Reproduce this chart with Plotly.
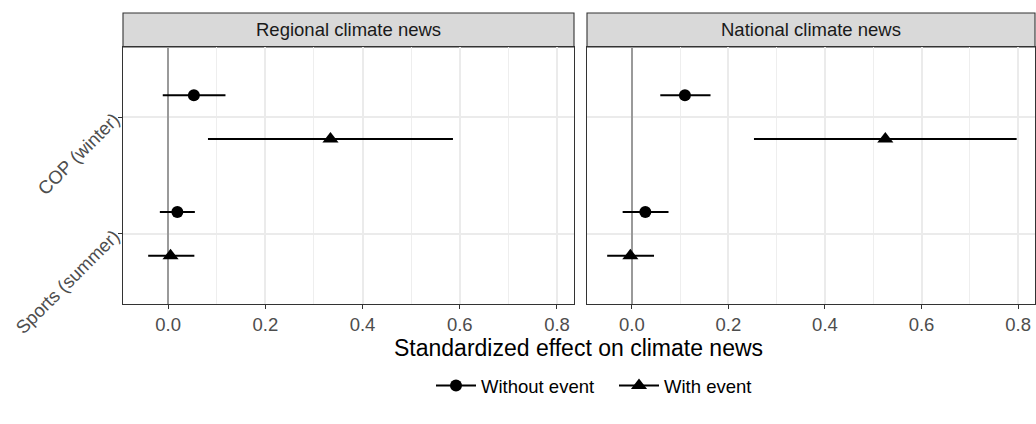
import plotly.graph_objects as go

# ---- data ----
categories = ["Sports (summer)", "COP (winter)"]
panels = ["Regional climate news", "National climate news"]
series = ["Without event", "With event"]

# Regional panel: [Sports, COP]
reg_without_est = [0.019, 0.053]
reg_without_lo = [-0.017, -0.011]
reg_without_hi = [0.055, 0.118]
reg_with_est = [0.005, 0.334]
reg_with_lo = [-0.041, 0.082]
reg_with_hi = [0.054, 0.586]

# National panel: [Sports, COP]
nat_without_est = [0.028, 0.110]
nat_without_lo = [-0.019, 0.059]
nat_without_hi = [0.076, 0.163]
nat_with_est = [-0.003, 0.525]
nat_with_lo = [-0.051, 0.253]
nat_with_hi = [0.046, 0.797]

x_ticks = [0.0, 0.2, 0.4, 0.6, 0.8]
x_ticktext = ["0.0", "0.2", "0.4", "0.6", "0.8"]

# ---- figure ----
W, H = 1036, 424
FONT = "Liberation Sans"
TICK_SIZE = 18.5
DODGE = 0.1875

fig = go.Figure()

pos = list(range(1, len(categories) + 1))
symbols = {"Without event": "circle", "With event": "triangle-up"}
msize = {"Without event": 12, "With event": 14}
offsets = {"Without event": DODGE, "With event": -DODGE}

panel_data = [
    {"Without event": (reg_without_est, reg_without_lo, reg_without_hi),
     "With event": (reg_with_est, reg_with_lo, reg_with_hi)},
    {"Without event": (nat_without_est, nat_without_lo, nat_without_hi),
     "With event": (nat_with_est, nat_with_lo, nat_with_hi)},
]

for pi, pdata in enumerate(panel_data):
    xa = "x" if pi == 0 else "x2"
    ya = "y" if pi == 0 else "y2"
    for s in series:
        est, lo, hi = pdata[s]
        fig.add_trace(go.Scatter(
            x=est,
            y=[p + offsets[s] for p in pos],
            mode="markers",
            marker=dict(symbol=symbols[s], size=msize[s], color="black"),
            error_x=dict(type="data", symmetric=False,
                         array=[h - e for h, e in zip(hi, est)],
                         arrayminus=[e - l for e, l in zip(est, lo)],
                         width=0, thickness=2, color="black"),
            xaxis=xa, yaxis=ya, showlegend=False, hoverinfo="skip",
        ))

# legend entries
for s in series:
    fig.add_trace(go.Scatter(
        x=[None], y=[None], mode="lines+markers", name=s,
        marker=dict(symbol=symbols[s], size=msize[s], color="black"),
        line=dict(color="black", width=2),
        xaxis="x", yaxis="y",
    ))

xrange = [-0.0928, 0.835]
yrange = [0.4, 2.6]

left_dom = [123 / W, 574 / W]
right_dom = [587 / W, 1035 / W]
y_dom = [(H - 304) / H, (H - 47) / H]

common_x = dict(
    range=xrange, tickvals=x_ticks, ticktext=x_ticktext,
    showgrid=True, gridcolor="#EBEBEB", gridwidth=1.5,
    minor=dict(dtick=0.1, tick0=0, showgrid=True, gridcolor="#EEEEEE", gridwidth=0.8),
    zeroline=True, zerolinecolor="#9A9A9A", zerolinewidth=1.6,
    showline=True, mirror=True, linecolor="#333333", linewidth=1.1,
    ticks="outside", ticklen=4, tickcolor="#333333", tickwidth=1.1,
    tickfont=dict(family=FONT, size=TICK_SIZE, color="#4D4D4D"),
    fixedrange=True, automargin=False,
)
common_y = dict(
    range=yrange, tickvals=pos, ticktext=categories,
    showgrid=True, gridcolor="#EBEBEB", gridwidth=1.5,
    zeroline=False,
    showline=True, mirror=True, linecolor="#333333", linewidth=1.1,
    domain=y_dom, fixedrange=True, automargin=False,
)

fig.update_layout(
    width=W, height=H,
    margin=dict(l=0, r=0, t=0, b=0, pad=0),
    paper_bgcolor="white", plot_bgcolor="white",
    font=dict(family=FONT, color="black"),
    xaxis=dict(domain=left_dom, anchor="y", **common_x),
    xaxis2=dict(domain=right_dom, anchor="y2", **common_x),
    yaxis=dict(anchor="x", ticks="outside", ticklen=4, tickcolor="#333333", tickwidth=1.1,
               tickangle=-45,
               tickfont=dict(family=FONT, size=TICK_SIZE, color="#4D4D4D"),
               **common_y),
    yaxis2=dict(anchor="x2", showticklabels=False, ticks="", **common_y),
    legend=dict(orientation="h", x=431 / W, xanchor="left", y=(H - 386) / H, yanchor="middle",
                font=dict(family=FONT, size=TICK_SIZE, color="black"),
                itemwidth=40, entrywidth=128, entrywidthmode="pixels",
                tracegroupgap=0, bgcolor="rgba(0,0,0,0)"),
    showlegend=True,
)

# strips
strip_y0 = (H - 47) / H
strip_y1 = (H - 13) / H
for dom, label in zip([left_dom, right_dom], panels):
    fig.add_shape(type="rect", xref="paper", yref="paper",
                  x0=dom[0], x1=dom[1], y0=strip_y0, y1=strip_y1,
                  fillcolor="#D9D9D9", line=dict(color="#333333", width=1.1), layer="below")
    fig.add_annotation(xref="paper", yref="paper", x=(dom[0] + dom[1]) / 2,
                       y=(strip_y0 + strip_y1) / 2, text=label, showarrow=False,
                       xanchor="center", yanchor="middle",
                       font=dict(family=FONT, size=TICK_SIZE, color="#1A1A1A"))

# x-axis title
fig.add_annotation(xref="paper", yref="paper", x=(left_dom[0] + right_dom[1]) / 2,
                   y=(H - 348) / H, text="Standardized effect on climate news",
                   showarrow=False, xanchor="center", yanchor="middle",
                   font=dict(family=FONT, size=23, color="black"))

fig.write_html("out.html", config={"displayModeBar": False},
               post_script="document.body.style.margin='0';document.body.style.overflow='hidden';")
